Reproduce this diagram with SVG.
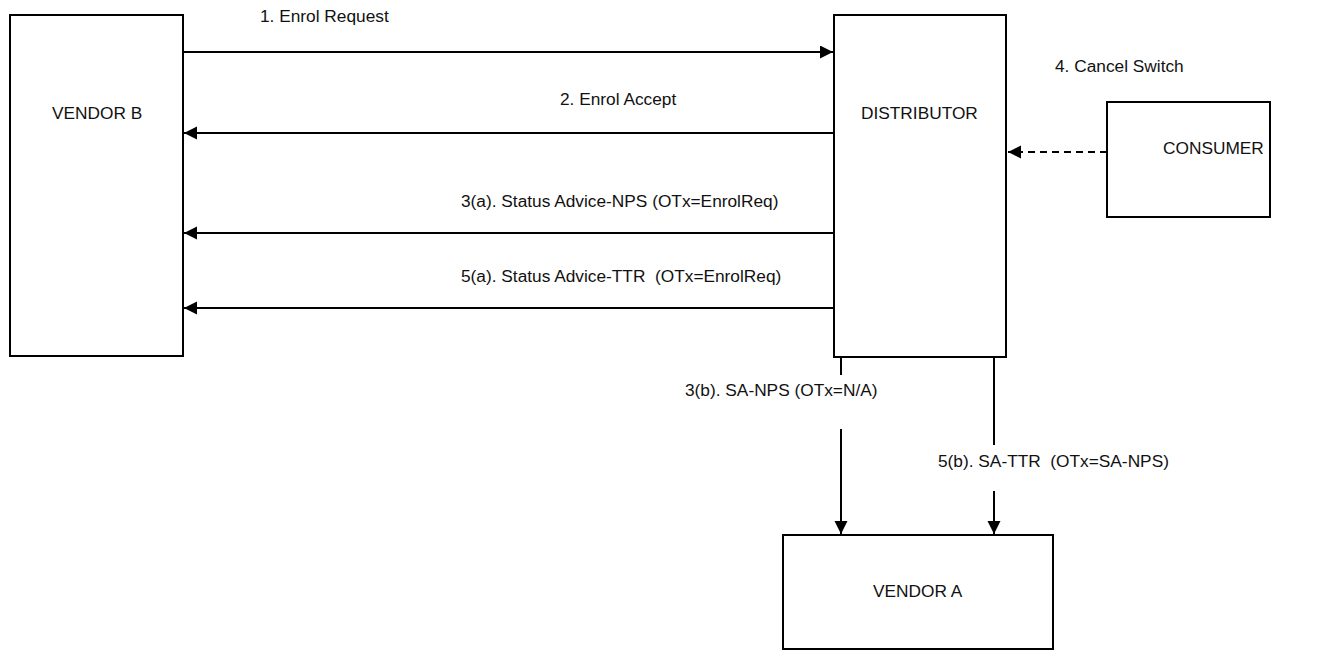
<svg xmlns="http://www.w3.org/2000/svg" width="1325" height="650" viewBox="0 0 1325 650">
<style>
.box{fill:#fff;stroke:#000;stroke-width:2}
.t{font-family:"Liberation Sans",Arial,sans-serif;font-size:17.3px;fill:#111}
.c{fill:none;stroke:#000;stroke-width:2}
.d{stroke-dasharray:7,5}
</style>
<defs>
<marker id="ah" markerUnits="userSpaceOnUse" markerWidth="14" markerHeight="14" refX="13" refY="6.5" orient="auto">
<path d="M0,0 L13,6.5 L0,13 z" fill="#000"/>
</marker>
</defs>
<rect width="1325" height="650" fill="#fff"/>
<g id="vendor-b"><rect class="box" x="10" y="15" width="173" height="341"/><text class="t" x="52" y="119">VENDOR B</text></g>
<g id="distributor"><rect class="box" x="834" y="15" width="172" height="342"/><text class="t" x="861" y="119">DISTRIBUTOR</text></g>
<g id="consumer"><rect class="box" x="1107" y="102" width="163" height="115"/><text class="t" x="1163" y="154">CONSUMER</text></g>
<g id="vendor-a"><rect class="box" x="783" y="535" width="270" height="114"/><text class="t" x="873" y="597">VENDOR A</text></g>
<g id="connectors">
<path class="c" d="M183,52 H833" marker-end="url(#ah)"/>
<path class="c" d="M834,133 H184" marker-end="url(#ah)"/>
<path class="c" d="M834,233 H184" marker-end="url(#ah)"/>
<path class="c" d="M834,308 H184" marker-end="url(#ah)"/>
<path class="c d" d="M1107,152 H1008" marker-end="url(#ah)"/>
<path class="c" d="M841,357 V375"/>
<path class="c" d="M841,429 V534" marker-end="url(#ah)"/>
<path class="c" d="M994,357 V445"/>
<path class="c" d="M994,491 V534" marker-end="url(#ah)"/>
<text class="t" x="260" y="22">1. Enrol Request</text>
<text class="t" x="560" y="105">2. Enrol Accept</text>
<text class="t" x="461" y="207">3(a). Status Advice-NPS (OTx=EnrolReq)</text>
<text class="t" x="461" y="282" xml:space="preserve">5(a). Status Advice-TTR  (OTx=EnrolReq)</text>
<text class="t" x="1055" y="72">4. Cancel Switch</text>
<text class="t" x="685" y="396">3(b). SA-NPS (OTx=N/A)</text>
<text class="t" x="938" y="467" xml:space="preserve">5(b). SA-TTR  (OTx=SA-NPS)</text>
</g>
</svg>
